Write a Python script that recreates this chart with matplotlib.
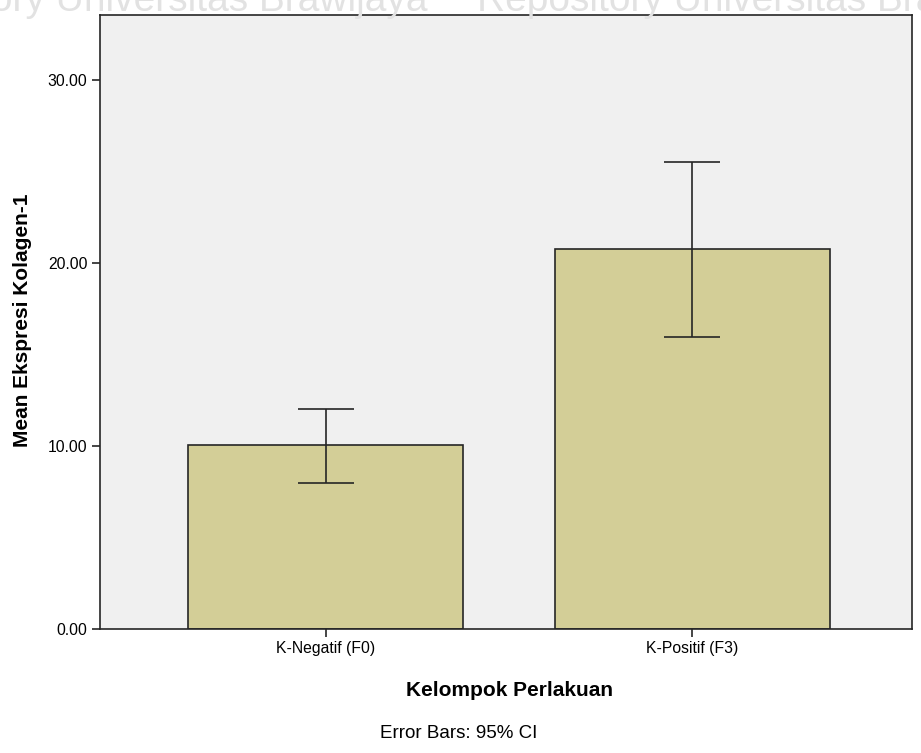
import matplotlib
matplotlib.use("Agg")
import matplotlib.pyplot as plt

plt.rcParams['font.family'] = ['Liberation Sans', 'DejaVu Sans']

groups = ["K-Negatif (F0)", "K-Positif (F3)"]
means = [10.05, 20.75]
ci_low = [8.0, 15.95]
ci_high = [12.0, 25.5]
yticks = [0, 10, 20, 30]

W, H = 921, 753
fig = plt.figure(figsize=(W / 100, H / 100), dpi=100)
ax = fig.add_axes([100 / W, 1 - 629 / H, 812 / W, 614 / H])
ax.set_facecolor("#f0f0f0")

x = list(range(len(groups)))
err = [[m - lo for m, lo in zip(means, ci_low)],
       [hi - m for m, hi in zip(means, ci_high)]]
ax.bar(x, means, width=0.75, color="#d3ce97", edgecolor="#262626", linewidth=1.2, zorder=2)
ax.errorbar(x, means, yerr=err, fmt="none", ecolor="#262626", elinewidth=1.2,
            capsize=20, capthick=1.2, zorder=3)

ax.set_xlim(-0.616, 1.60)
ax.set_ylim(0, 33.55)
ax.set_xticks(x)
ax.set_xticklabels(groups, fontsize=11.3)
ax.set_yticks(yticks)
ax.set_yticklabels(["%.2f" % v for v in yticks], fontsize=11.3)
ax.tick_params(direction="out", length=6, width=1.2, color="#262626", pad=3)
for s in ax.spines.values():
    s.set_color("#262626")
    s.set_linewidth(1.2)

fig.text(23 / W, 1 - 320 / H, "Mean Ekspresi Kolagen-1", fontsize=15, fontweight="bold",
         rotation=90, ha="center", va="center")
fig.text(509 / W, 1 - 690 / H, "Kelompok Perlakuan", fontsize=15, fontweight="bold",
         ha="center", va="center")
fig.text(459 / W, 1 - 733 / H, "Error Bars: 95% CI", fontsize=13.5, ha="center", va="center")

# watermark strip along the top edge
fig.text(427 / W, 1 - 11 / H, "Repository Universitas Brawijaya", fontsize=28,
         color="#e2e2e2", ha="right", va="baseline", zorder=0)
fig.text(477 / W, 1 - 11 / H, "Repository Universitas Brawijaya", fontsize=28,
         color="#e2e2e2", ha="left", va="baseline", zorder=0)

fig.savefig("out.png", dpi=100)
